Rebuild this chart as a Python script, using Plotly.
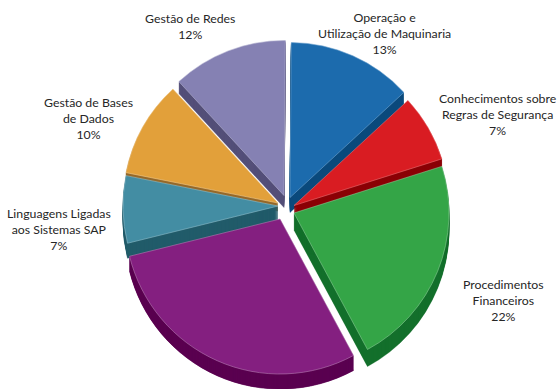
import plotly.graph_objects as go

# Competence areas, listed clockwise from twelve o'clock
categories = [
    "Operação e<br>Utilização de Maquinaria",
    "Conhecimentos sobre<br>Regras de Segurança",
    "Procedimentos<br>Financeiros",
    "",
    "Linguagens Ligadas<br>aos Sistemas SAP",
    "Gestão de Bases<br>de Dados",
    "Gestão de Redes",
]
values = [13, 7, 22, 29, 7, 10, 12]

top_colors = ["#1c6bad", "#d91c22", "#34a547", "#841f80", "#438da3", "#e2a03a", "#8581b3"]
side_colors = ["#0a4a7c", "#8b0006", "#13702c", "#5a0050", "#225c6a", "#96692a", "#55507a"]
rim_colors = ["#6fa3cf", "#e86f72", "#86cb92", "#b57bb2", "#8dbcc9", "#efc88a", "#b6b3d2"]

# Where each exploded wedge has its apex, in pixels, and how tall it is extruded
apex_x = [290, 294, 294, 280, 278, 278, 284]
apex_y = [197.5, 205.5, 213, 219, 206, 203, 195.5]
depths = [15, 8, 17, 16, 15, 8, 12]

# Labels: centre x and y of the block, in pixels
label_x = [384, 498, 503, None, 59, 88, 190]
label_y = [33.5, 114.5, 300.5, None, 229.5, 118.5, 26.5]

WIDTH, HEIGHT = 560, 389
RADIUS = 155
START_ANGLE = 0.5
PAINT_ORDER = [6, 0, 5, 1, 4, 2, 3]

total = sum(values)
starts = [START_ANGLE + 360 * sum(values[:i]) / total for i in range(len(values))]


def wedge(i, dy, color, rim=None):
    """One wedge as its own pie, with the rest of the circle left transparent."""
    cx, cy = apex_x[i], apex_y[i] + dy
    return go.Pie(
        values=[values[i], total - values[i]],
        sort=False,
        direction="clockwise",
        rotation=starts[i],
        domain=dict(
            x=[max(0, (cx - RADIUS) / WIDTH), min(1, (cx + RADIUS) / WIDTH)],
            y=[max(0, 1 - (cy + RADIUS) / HEIGHT), min(1, 1 - (cy - RADIUS) / HEIGHT)],
        ),
        marker=dict(
            colors=[color, "rgba(0,0,0,0)"],
            line=dict(color=[rim or color, "rgba(0,0,0,0)"], width=[0.6 if rim else 0.4, 0]),
        ),
        textinfo="none",
        hoverinfo="skip",
        showlegend=False,
    )


fig = go.Figure()
for i in PAINT_ORDER:
    # The side wall is the wedge repeated downward, one pixel at a time
    for dy in range(depths[i], 0, -1):
        fig.add_trace(wedge(i, dy, side_colors[i]))
    fig.add_trace(wedge(i, 0, top_colors[i], rim_colors[i]))

for name, value, x, y in zip(categories, values, label_x, label_y):
    if not name:
        continue
    fig.add_annotation(
        text=f"{name}<br>{value}%",
        x=x / WIDTH,
        y=1 - y / HEIGHT,
        xref="paper",
        yref="paper",
        xanchor="center",
        yanchor="middle",
        showarrow=False,
        align="center",
        font=dict(family="Lato", size=12.3, color="#262626"),
    )

fig.update_layout(
    width=WIDTH,
    height=HEIGHT,
    margin=dict(l=0, r=0, t=0, b=0),
    paper_bgcolor="white",
    plot_bgcolor="white",
)
fig.write_html("out.html")
